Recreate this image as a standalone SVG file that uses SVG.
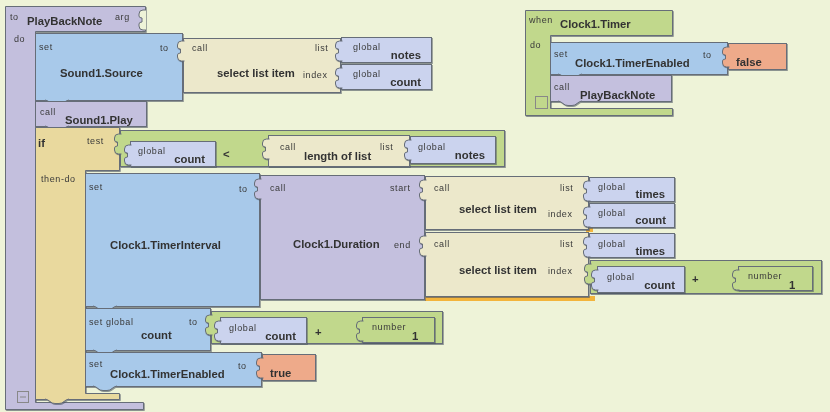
<svg xmlns="http://www.w3.org/2000/svg" xmlns:xlink="http://www.w3.org/1999/xlink" width="830" height="412" viewBox="0 0 830 412">
<style>
.pr{fill:#c3bfdd}.bl{fill:#a8c9ea}.cp{fill:#c4c0de}.sl{fill:#ece8cb}.gv{fill:#cbd3ee}.iff{fill:#e9d99e}.mg{fill:#c1d88c}.bo{fill:#eeaa8a}.bg{fill:#eef3d8}
.b{stroke:#666d78;stroke-width:1}
g[id]{filter:url(#sh)}
text{font-family:"Liberation Sans",Arial,sans-serif}
.s{font-size:9px;letter-spacing:0.6px;fill:#3a3a3a}
.t{font-size:11.3px;font-weight:bold;fill:#333}
</style>
<defs>
<filter id="sh" x="-5%" y="-5%" width="110%" height="115%">
<feDropShadow dx="0.8" dy="1" stdDeviation="0.3" flood-color="#4a5260" flood-opacity="0.6"/>
</filter>
<path id="plug" d="M1,3 H-2 Q-6,3 -6,7 V9 Q-6,11 -3,11 V15 Q-6,15 -6,17 V19 Q-6,23 -2,23 H1"/>
<path id="tab" d="M0,-0.5 Q3,0 5,2 Q7,4 10,4 H14 Q17,4 19,2 Q21,0 24,-0.5"/>
</defs>
<rect width="830" height="412" class="bg"/>
<g id="connectors"/>

<g id="proc-playbacknote">
<path class="pr b" d="M5.5,6.5 H145.5 V31.5 H35.5 V402.5 H143.5 V409.5 H5.5 Z"/>
<use href="#plug" x="145" y="7" class="bg b"/>
<text class="s" x="10" y="20">to</text>
<text class="t" x="27" y="25">PlayBackNote</text>
<text class="s" x="115" y="20">arg</text>
<text class="s" x="14" y="42">do</text>
<rect x="17.5" y="391.5" width="11" height="11" fill="none" stroke="#888"/>
<line x1="20" y1="397" x2="26" y2="397" stroke="#888"/>
</g>

<g id="set-sound-source">
<rect class="bl b" x="35.5" y="33.5" width="147" height="67"/>
<use href="#tab" x="45" y="100.5" class="bl b"/>
<text class="s" x="39" y="50">set</text>
<text class="t" x="60" y="77">Sound1.Source</text>
<text class="s" x="160" y="51">to</text>
</g>
<g id="select-list-item-1">
<rect class="sl b" x="183.5" y="38.5" width="157" height="54"/>
<use href="#plug" x="183.5" y="38" class="sl b"/>
<text class="s" x="192" y="51">call</text>
<text class="t" x="217" y="77">select list item</text>
<text class="s" x="315" y="51">list</text>
<text class="s" x="303" y="78">index</text>
</g>
<g id="global-notes-1">
<rect class="gv b" x="341.5" y="37.5" width="90" height="25"/>
<use href="#plug" x="341.5" y="38" class="gv b"/>
<text class="s" x="353" y="50">global</text>
<text class="t" x="421" y="59" text-anchor="end">notes</text>
</g>
<g id="global-count-1">
<rect class="gv b" x="341.5" y="64.5" width="90" height="25"/>
<use href="#plug" x="341.5" y="65" class="gv b"/>
<text class="s" x="353" y="77">global</text>
<text class="t" x="421" y="86" text-anchor="end">count</text>
</g>

<g id="call-sound-play">
<rect class="cp b" x="35.5" y="101.5" width="111" height="25"/>
<use href="#tab" x="45" y="126.5" class="cp b"/>
<text class="s" x="40" y="115">call</text>
<text class="t" x="65" y="124">Sound1.Play</text>
</g>

<g id="if-block">
<path class="iff b" d="M35.5,127.5 H119.5 V170.5 H85.5 V393.5 H119.5 V399.5 H35.5 Z"/>
<use href="#tab" x="45" y="399.5" class="iff b"/>
<text class="t" x="38" y="147">if</text>
<text class="s" x="87" y="144">test</text>
<text class="s" x="41" y="182">then-do</text>
</g>
<g id="compare-lt">
<rect class="mg b" x="120.5" y="130.5" width="384" height="36"/>
<use href="#plug" x="120.5" y="131" class="mg b"/>
<text class="t" x="223" y="158">&lt;</text>
</g>
<g id="global-count-2">
<rect class="gv b" x="130.5" y="141.5" width="85" height="25"/>
<use href="#plug" x="130.5" y="142" class="gv b"/>
<text class="s" x="138" y="154">global</text>
<text class="t" x="205" y="163" text-anchor="end">count</text>
</g>
<g id="length-of-list">
<rect class="sl b" x="268.5" y="135.5" width="141" height="31"/>
<use href="#plug" x="268.5" y="136" class="sl b"/>
<text class="s" x="280" y="150">call</text>
<text class="t" x="304" y="160">length of list</text>
<text class="s" x="380" y="150">list</text>
</g>
<g id="global-notes-2">
<rect class="gv b" x="410.5" y="136.5" width="85" height="27"/>
<use href="#plug" x="410.5" y="137" class="gv b"/>
<text class="s" x="418" y="150">global</text>
<text class="t" x="485" y="159" text-anchor="end">notes</text>
</g>

<g id="set-timer-interval">
<rect class="bl b" x="85.5" y="173.5" width="174" height="133"/>
<use href="#tab" x="93" y="306.5" class="bl b"/>
<text class="s" x="89" y="190">set</text>
<text class="t" x="110" y="249">Clock1.TimerInterval</text>
<text class="s" x="239" y="192">to</text>
</g>
<rect x="586" y="228" width="7" height="4" fill="#f3b43c"/>
<rect x="425" y="296" width="170" height="5" fill="#f3b43c"/>
<g id="clock-duration">
<rect class="cp b" x="260.5" y="175.5" width="164" height="124"/>
<use href="#plug" x="260.5" y="176" class="cp b"/>
<text class="s" x="270" y="191">call</text>
<text class="s" x="390" y="191">start</text>
<text class="t" x="293" y="248">Clock1.Duration</text>
<text class="s" x="394" y="248">end</text>
</g>
<g id="select-list-item-2">
<rect class="sl b" x="425.5" y="176.5" width="163" height="53"/>
<use href="#plug" x="425.5" y="177" class="sl b"/>
<text class="s" x="434" y="191">call</text>
<text class="t" x="459" y="213">select list item</text>
<text class="s" x="560" y="191">list</text>
<text class="s" x="548" y="217">index</text>
</g>
<g id="global-times-1">
<rect class="gv b" x="589.5" y="177.5" width="85" height="24"/>
<use href="#plug" x="589.5" y="178" class="gv b"/>
<text class="s" x="598" y="190">global</text>
<text class="t" x="665" y="198" text-anchor="end">times</text>
</g>
<g id="global-count-3">
<rect class="gv b" x="589.5" y="203.5" width="85" height="24"/>
<use href="#plug" x="589.5" y="204" class="gv b"/>
<text class="s" x="598" y="216">global</text>
<text class="t" x="666" y="224" text-anchor="end">count</text>
</g>
<g id="select-list-item-3">
<rect class="sl b" x="425.5" y="232.5" width="163" height="64"/>
<use href="#plug" x="425.5" y="233" class="sl b"/>
<text class="s" x="434" y="247">call</text>
<text class="t" x="459" y="274">select list item</text>
<text class="s" x="560" y="247">list</text>
<text class="s" x="548" y="274">index</text>
</g>
<g id="global-times-2">
<rect class="gv b" x="589.5" y="233.5" width="85" height="24"/>
<use href="#plug" x="589.5" y="234" class="gv b"/>
<text class="s" x="598" y="247">global</text>
<text class="t" x="665" y="255" text-anchor="end">times</text>
</g>
<g id="add-1">
<rect class="mg b" x="590.5" y="260.5" width="231" height="33"/>
<use href="#plug" x="590.5" y="261" class="mg b"/>
<text class="t" x="692" y="283">+</text>
</g>
<g id="global-count-4">
<rect class="gv b" x="597.5" y="266.5" width="87" height="26"/>
<use href="#plug" x="597.5" y="267" class="gv b"/>
<text class="s" x="607" y="280">global</text>
<text class="t" x="675" y="289" text-anchor="end">count</text>
</g>
<g id="number-1a">
<rect class="mg b" x="738.5" y="266.5" width="74" height="24"/>
<use href="#plug" x="738.5" y="267" class="mg b"/>
<text class="s" x="748" y="279">number</text>
<text class="t" x="789" y="289">1</text>
</g>

<g id="set-global-count">
<rect class="bl b" x="85.5" y="308.5" width="125" height="42"/>
<use href="#tab" x="93" y="350.5" class="bl b"/>
<text class="s" x="89" y="325">set global</text>
<text class="t" x="141" y="339">count</text>
<text class="s" x="189" y="325">to</text>
</g>
<g id="add-2">
<rect class="mg b" x="211.5" y="311.5" width="231" height="32"/>
<use href="#plug" x="211.5" y="312" class="mg b"/>
<text class="t" x="315" y="336">+</text>
</g>
<g id="global-count-5">
<rect class="gv b" x="220.5" y="317.5" width="86" height="26"/>
<use href="#plug" x="220.5" y="318" class="gv b"/>
<text class="s" x="229" y="331">global</text>
<text class="t" x="296" y="340" text-anchor="end">count</text>
</g>
<g id="number-1b">
<rect class="mg b" x="362.5" y="317.5" width="72" height="25"/>
<use href="#plug" x="362.5" y="318" class="mg b"/>
<text class="s" x="372" y="330">number</text>
<text class="t" x="412" y="340">1</text>
</g>

<g id="set-timer-enabled-true">
<rect class="bl b" x="85.5" y="352.5" width="176" height="34"/>
<use href="#tab" x="93" y="386.5" class="bl b"/>
<text class="s" x="89" y="367">set</text>
<text class="t" x="110" y="378">Clock1.TimerEnabled</text>
<text class="s" x="238" y="369">to</text>
</g>
<g id="bool-true">
<rect class="bo b" x="262.5" y="354.5" width="53" height="26"/>
<use href="#plug" x="262.5" y="355" class="bo b"/>
<text class="t" x="270" y="377">true</text>
</g>

<g id="event-clock-timer">
<path class="mg b" d="M525.5,10.5 H672.5 V35.5 H550.5 V108.5 H672.5 V115.5 H525.5 Z"/>
<text class="s" x="529" y="23">when</text>
<text class="t" x="560" y="28">Clock1.Timer</text>
<text class="s" x="530" y="48">do</text>
<rect x="535.5" y="96.5" width="12" height="12" fill="none" stroke="#888"/>
</g>
<g id="set-timer-enabled-false">
<rect class="bl b" x="550.5" y="42.5" width="177" height="32"/>
<use href="#tab" x="558" y="74.5" class="bl b"/>
<text class="s" x="554" y="57">set</text>
<text class="t" x="575" y="67">Clock1.TimerEnabled</text>
<text class="s" x="703" y="58">to</text>
</g>
<g id="bool-false">
<rect class="bo b" x="728.5" y="43.5" width="58" height="26"/>
<use href="#plug" x="728.5" y="44" class="bo b"/>
<text class="t" x="736" y="66">false</text>
</g>
<g id="call-playbacknote">
<rect class="cp b" x="550.5" y="75.5" width="121" height="26"/>
<use href="#tab" x="558" y="101.5" class="cp b"/>
<text class="s" x="554" y="90">call</text>
<text class="t" x="580" y="99">PlayBackNote</text>
</g>
</svg>
